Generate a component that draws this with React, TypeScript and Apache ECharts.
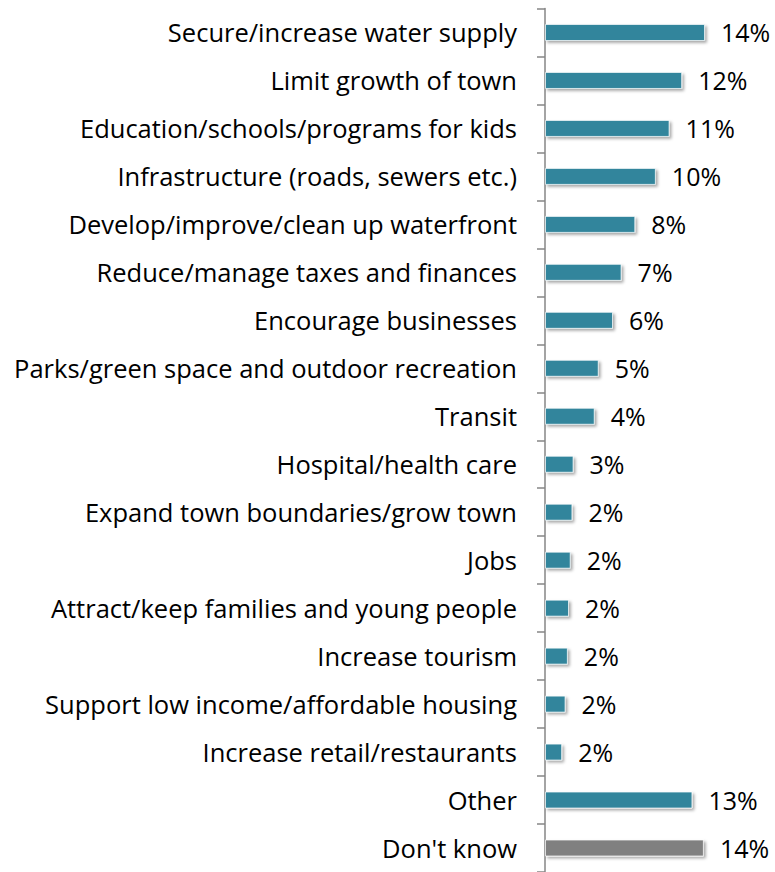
import React, { useEffect, useRef } from "react";
import * as echarts from "echarts";

const categories = [
  "Secure/increase water supply",
  "Limit growth of town",
  "Education/schools/programs for kids",
  "Infrastructure (roads, sewers etc.)",
  "Develop/improve/clean up waterfront",
  "Reduce/manage taxes and finances",
  "Encourage businesses",
  "Parks/green space and outdoor recreation",
  "Transit",
  "Hospital/health care",
  "Expand town boundaries/grow town",
  "Jobs",
  "Attract/keep families and young people",
  "Increase tourism",
  "Support low income/affordable housing",
  "Increase retail/restaurants",
  "Other",
  "Don't know",
];
const values = [14.0, 12.0, 10.9, 9.7, 7.9, 6.7, 5.95, 4.7, 4.35, 2.5, 2.4, 2.25, 2.1, 2.0, 1.8, 1.5, 12.9, 13.9];
const valueLabels = ["14%", "12%", "11%", "10%", "8%", "7%", "6%", "5%", "4%", "3%", "2%", "2%", "2%", "2%", "2%", "2%", "13%", "14%"];

const TEAL = "#31859C";
const GRAY = "#808080";

export default function App() {
  const ref = useRef<HTMLDivElement>(null);
  useEffect(() => {
    document.body.style.margin = "0";
    const chart = echarts.init(ref.current!, null, { renderer: "svg" });
    chart.setOption({
      animation: false,
      grid: { left: 545, top: 8.5, width: 228.6, height: 866, containLabel: false },
      xAxis: {
        type: "value",
        min: 0,
        max: 20,
        show: false,
      },
      yAxis: {
        type: "category",
        inverse: true,
        data: categories,
        axisLine: { show: true, lineStyle: { color: "#868686", width: 1.5 } },
        axisTick: { show: true, length: 8, lineStyle: { color: "#868686", width: 1.5 } },
        axisLabel: {
          margin: 28,
          color: "#000",
          fontFamily: "Open Sans",
          fontSize: 25.5,
        },
        splitLine: { show: false },
      },
      series: [
        {
          type: "bar",
          barWidth: 17,
          data: values.map((v, i) => ({
            value: v,
            itemStyle: { color: i === values.length - 1 ? GRAY : TEAL },
          })),
          itemStyle: {
            borderColor: "rgba(255,255,255,0.7)",
            borderWidth: 1,
            shadowBlur: 3,
            shadowOffsetX: 2,
            shadowOffsetY: 2,
            shadowColor: "rgba(0,0,0,0.35)",
          },
          label: {
            show: true,
            position: "right",
            distance: 16,
            color: "#000",
            fontFamily: "Open Sans",
            fontSize: 25,
            formatter: (p: any) => valueLabels[p.dataIndex],
          },
        },
      ],
    });
    return () => chart.dispose();
  }, []);
  return <div ref={ref} style={{ width: 775, height: 872 }} />;
}
